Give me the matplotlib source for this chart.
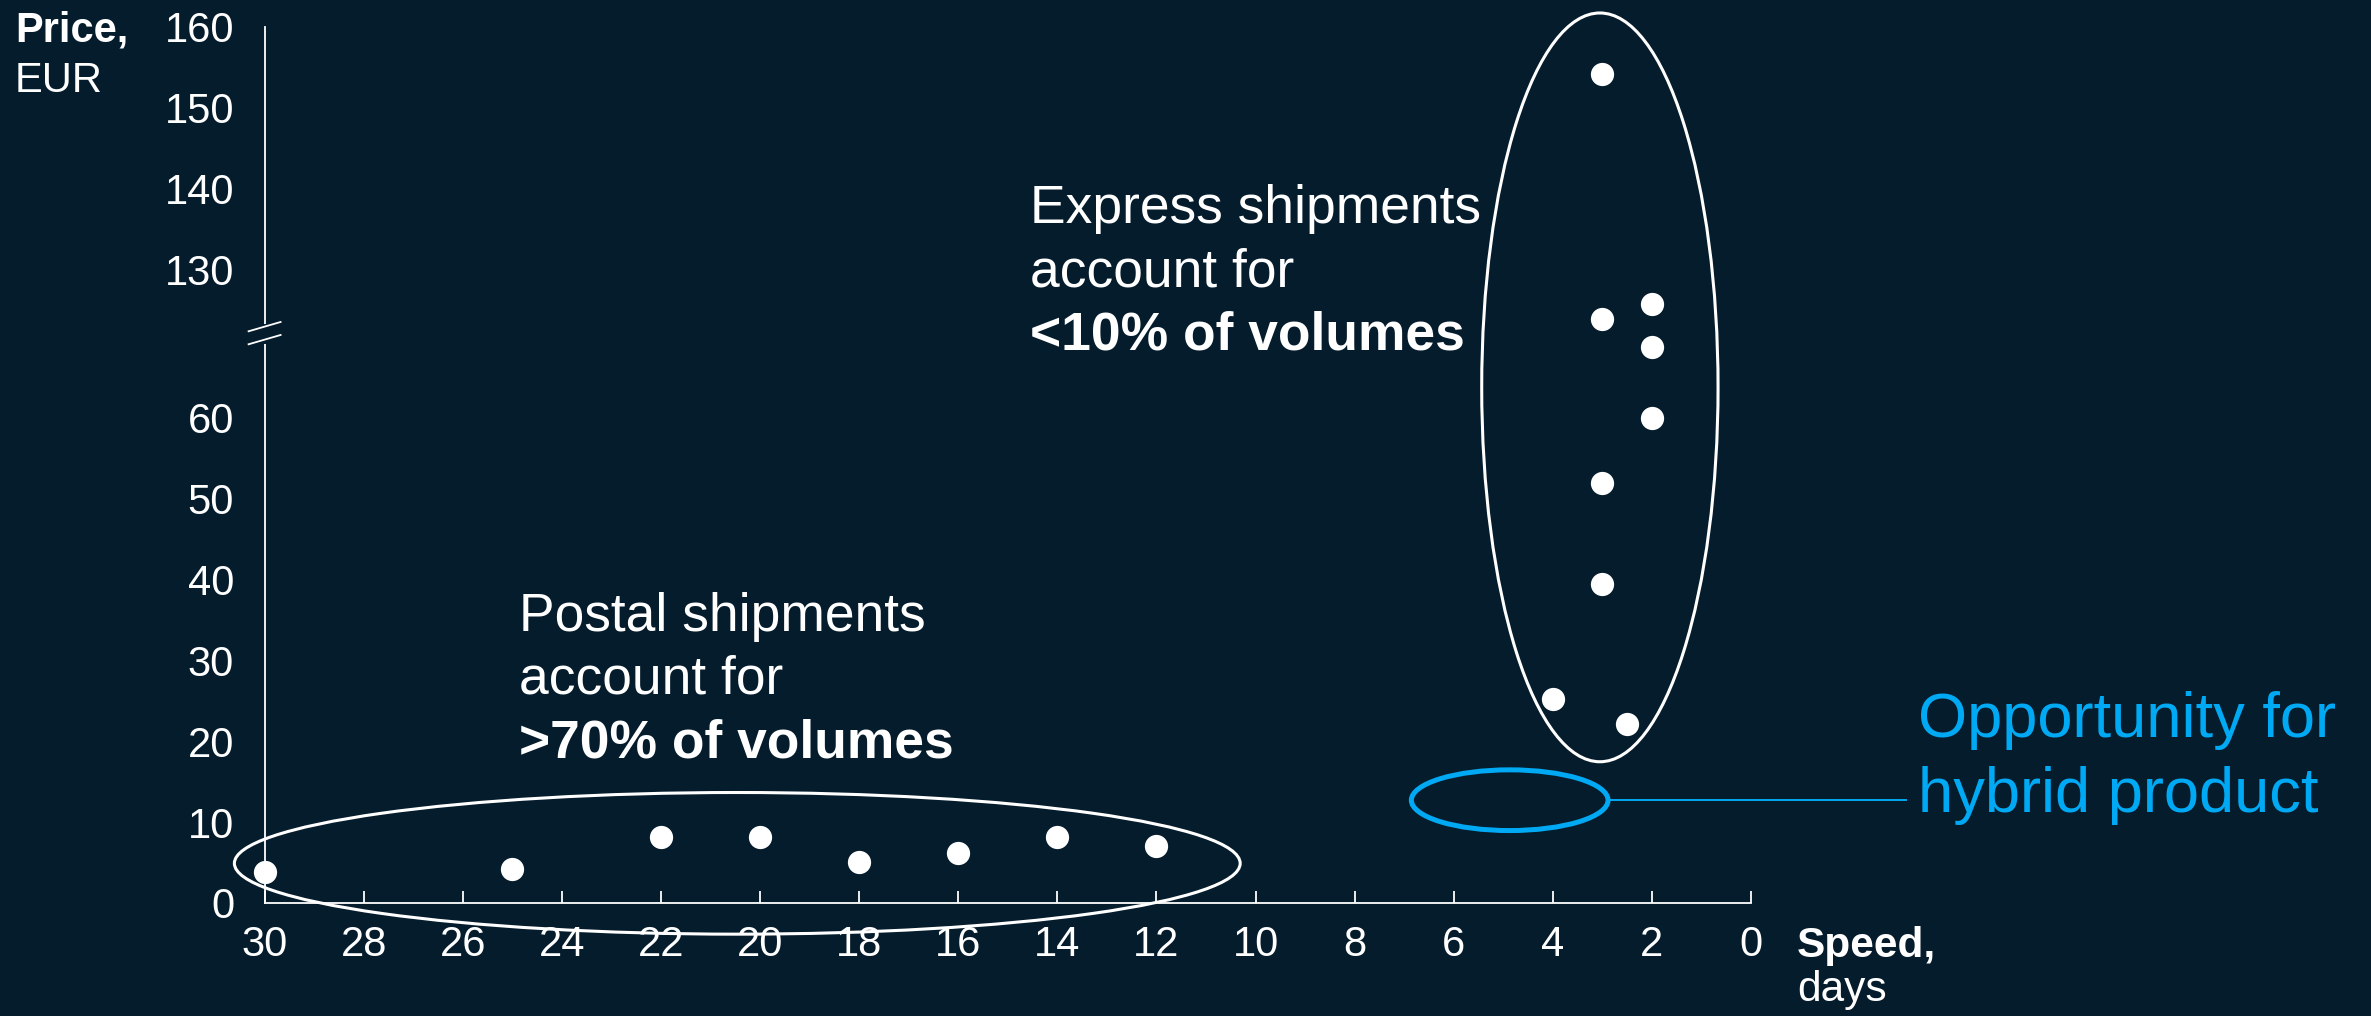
import numpy as np
import matplotlib
matplotlib.use("Agg")
import matplotlib.pyplot as plt
from matplotlib.patches import Ellipse

plt.rcParams['font.family'] = ['Liberation Sans', 'DejaVu Sans']

# ---------------- data ----------------
postal_days = [30, 25, 22, 20, 18, 16, 14, 12]
postal_price = [3.8, 4.2, 8.2, 8.2, 5.1, 6.2, 8.2, 7.1]

express_days = [3, 3, 2, 2, 2, 3, 3, 4, 2.5]
express_price = [154.1, 123.9, 125.7, 68.7, 59.9, 51.9, 39.4, 25.2, 22.1]

x_ticks = list(range(0, 31, 2))
y_ticks = [0, 10, 20, 30, 40, 50, 60, 130, 140, 150, 160]

# broken y-axis: compress the 70..122 range
REAL_K = [-50.0, 70.0, 122.0, 400.0]
T_K = [-50.0, 70.0, 70.28, 348.28]


def fwd(y):
    return np.interp(y, REAL_K, T_K)


def inv(t):
    return np.interp(t, T_K, REAL_K)


# ---------------- style ----------------
BG = '#051c2c'
WHITE = '#ffffff'
BLUE = '#00a9f4'
W, H = 2371, 1016

fig = plt.figure(figsize=(W / 100, H / 100), dpi=100, facecolor=BG)
ax = fig.add_axes([264.6 / W, 1 - 903 / H, (1751 - 264.6) / W, 876.5 / H], facecolor=BG)
ax.set_yscale('function', functions=(fwd, inv))
ax.set_xlim(30, 0)
ax.set_ylim(0, 160)

for s in ['top', 'right']:
    ax.spines[s].set_visible(False)
for s in ['left', 'bottom']:
    ax.spines[s].set_color(WHITE)
    ax.spines[s].set_linewidth(1.3)

ax.set_xticks(x_ticks)
ax.set_xticklabels([str(v) for v in x_ticks])
ax.set_yticks(y_ticks)
ax.set_yticklabels([str(v) for v in y_ticks])
ax.tick_params(axis='x', direction='in', length=9, width=1.3, colors=WHITE,
               labelsize=30, pad=16)
ax.tick_params(axis='y', length=0, colors=WHITE, labelsize=30, pad=22)
ax.minorticks_off()

# points
ax.scatter(postal_days, postal_price, s=280, color=WHITE, zorder=5,
           clip_on=False, linewidths=0)
ax.scatter(express_days, express_price, s=280, color=WHITE, zorder=5,
           clip_on=False, linewidths=0)

# ellipses drawn in the scaled (axis) space so they stay true ellipses
tr = ax.transLimits + ax.transAxes
ax.add_patch(Ellipse((20.46, 4.9), 20.3, 17.5, transform=tr, fill=False,
                     edgecolor=WHITE, lw=2.2, clip_on=False, zorder=4))
ax.add_patch(Ellipse((3.05, 63.7), 4.77, 92.5, transform=tr, fill=False,
                     edgecolor=WHITE, lw=2.2, clip_on=False, zorder=4))
ax.add_patch(Ellipse((4.87, 12.7), 3.97, 7.5, transform=tr, fill=False,
                     edgecolor=BLUE, lw=3.6, clip_on=False, zorder=4))
# connector line from blue ellipse to label
ax.plot([4.87 - 3.97 / 2, -3.13], [12.7, 12.7], color=BLUE, lw=1.4,
        clip_on=False, zorder=4)

# axis break marks
ah, aw = 876.5, 1486.4
tb = 70.4 / 108.28
g = 6.5 / ah
ax.plot([0, 0], [tb - g, tb + g], transform=ax.transAxes, color=BG, lw=5,
        clip_on=False, zorder=3)
dx, dy = 16 / aw, 4.65 / ah
for c in (tb - g, tb + g):
    ax.plot([-dx, dx], [c - dy, c + dy], transform=ax.transAxes, color=WHITE,
            lw=1.3, clip_on=False, zorder=4)


# ---------------- texts ----------------
def ftext(xpx, ybase, s, **kw):
    fig.text(xpx / W, 1 - ybase / H, s, va='baseline', ha='left', **kw)


ftext(15, 41, 'Price,', color=WHITE, fontsize=30, fontweight='bold')
ftext(15, 92, 'EUR', color=WHITE, fontsize=30)
ftext(1797, 957, 'Speed,', color=WHITE, fontsize=30.5, fontweight='bold')
ftext(1797, 1001, 'days', color=WHITE, fontsize=30.5)

ftext(1030, 223, 'Express shipments', color=WHITE, fontsize=38.4)
ftext(1030, 287, 'account for', color=WHITE, fontsize=38.4)
ftext(1030, 350, '<10% of volumes', color=WHITE, fontsize=38.4, fontweight='bold')

ftext(519, 631, 'Postal shipments', color=WHITE, fontsize=38.4)
ftext(519, 694, 'account for', color=WHITE, fontsize=38.4)
ftext(519, 757, '>70% of volumes', color=WHITE, fontsize=38.4, fontweight='bold')

ftext(1918, 737, 'Opportunity for', color=BLUE, fontsize=45.5)
ftext(1918, 812, 'hybrid product', color=BLUE, fontsize=45.5)

fig.savefig('out.png', dpi=100, facecolor=BG)
